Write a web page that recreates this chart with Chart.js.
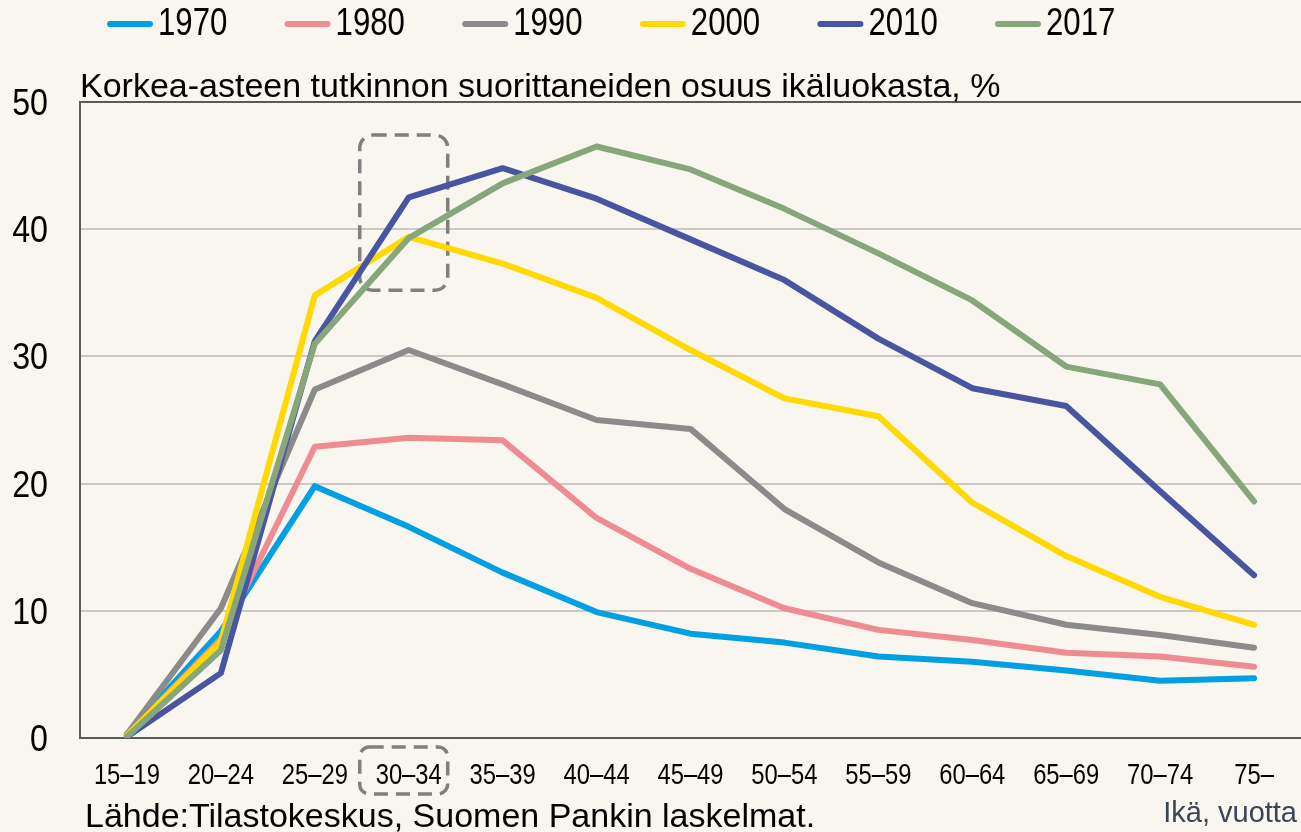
<!DOCTYPE html>
<html><head><meta charset="utf-8">
<script src="https://cdn.jsdelivr.net/npm/chart.js@4/dist/chart.umd.min.js"></script>
<style>
html,body{margin:0;padding:0;background:#f9f5ef;}
#wrap{width:1301px;height:832px;position:relative;}
</style>
</head><body>
<div id="wrap"><canvas id="c"></canvas></div>
<script>
const categories = ['15–19','20–24','25–29','30–34','35–39','40–44','45–49','50–54','55–59','60–64','65–69','70–74','75–'];
const seriesNames = ['1970','1980','1990','2000','2010','2017'];
const v1970 = [0.3, 8.4, 19.8, 16.6, 13.0, 9.9, 8.2, 7.5, 6.4, 6.0, 5.3, 4.5, 4.7];
const v1980 = [0.2, 7.8, 22.9, 23.6, 23.4, 17.3, 13.3, 10.2, 8.5, 7.7, 6.7, 6.4, 5.6];
const v1990 = [0.3, 10.2, 27.4, 30.5, 27.8, 25.0, 24.3, 18.0, 13.8, 10.6, 8.9, 8.1, 7.1];
const v2000 = [0.2, 7.6, 34.8, 39.4, 37.3, 34.6, 30.5, 26.7, 25.3, 18.5, 14.3, 11.1, 8.9];
const v2010 = [0.1, 5.1, 31.2, 42.5, 44.8, 42.4, 39.2, 36.0, 31.4, 27.5, 26.1, 19.4, 12.8];
const v2017 = [0.1, 6.9, 31.0, 39.3, 43.6, 46.5, 44.7, 41.6, 38.1, 34.4, 29.2, 27.8, 18.6];
const yTickValues = [0, 10, 20, 30, 40, 50];
const titleText = 'Korkea-asteen tutkinnon suorittaneiden osuus ikäluokasta, %';
const sourceText = 'Lähde:Tilastokeskus, Suomen Pankin laskelmat.';
const unitText = 'Ikä, vuotta';
const highlightCategory = 3;

const seriesValues = [v1970, v1980, v1990, v2000, v2010, v2017];
const colors = ['#00a0e2', '#ef8b92', '#8b8b8b', '#ffd900', '#4a55a2', '#87a77a'];
const REG = "'Liberation Sans',Arial,sans-serif";

function roundRectPath(ctx, x, y, w, h, r) {
  ctx.beginPath();
  ctx.moveTo(x + r, y);
  ctx.lineTo(x + w - r, y);
  ctx.arcTo(x + w, y, x + w, y + r, r);
  ctx.lineTo(x + w, y + h - r);
  ctx.arcTo(x + w, y + h, x + w - r, y + h, r);
  ctx.lineTo(x + r, y + h);
  ctx.arcTo(x, y + h, x, y + h - r, r);
  ctx.lineTo(x, y + r);
  ctx.arcTo(x, y, x + r, y, r);
  ctx.closePath();
}

// draws condensed text (horizontal squeeze), emulating a narrow typeface
function narrowText(ctx, text, x, y, align, size, sx) {
  ctx.save();
  ctx.font = size + 'px ' + REG;
  ctx.textAlign = align;
  ctx.textBaseline = 'alphabetic';
  ctx.translate(x, y);
  ctx.scale(sx, 1);
  ctx.fillText(text, 0, 0);
  ctx.restore();
}

const decor = {
  id: 'decor',
  beforeDraw(chart) {
    const ctx = chart.ctx;
    ctx.save();
    ctx.fillStyle = '#f9f5ef';
    ctx.fillRect(0, 0, chart.width, chart.height);
    ctx.restore();
  },
  beforeDatasetsDraw(chart) {
    const ctx = chart.ctx;
    const xs = chart.scales.x, ys = chart.scales.y;
    const cx = xs.getPixelForValue(highlightCategory);
    ctx.save();
    ctx.strokeStyle = '#7f7f7f';
    ctx.lineWidth = 3.5;
    ctx.setLineDash([14, 8]);
    const top = ys.getPixelForValue(47.4), bot = ys.getPixelForValue(35.2);
    roundRectPath(ctx, cx - 49, top, 88, bot - top, 13);
    ctx.stroke();
    ctx.restore();
  },
  afterDraw(chart) {
    const ctx = chart.ctx;
    const ca = chart.chartArea;
    const xs = chart.scales.x, ys = chart.scales.y;
    ctx.save();
    ctx.fillStyle = '#000';
    // x tick labels
    xs.ticks.forEach((t, i) => {
      narrowText(ctx, xs.getLabelForValue(t.value), xs.getPixelForTick(i), ca.bottom + 46, 'center', 29, 0.82);
    });
    // y tick labels
    ys.ticks.forEach((t, i) => {
      narrowText(ctx, String(t.value), ca.left - 32, ys.getPixelForValue(t.value) + 13, 'right', 37, 0.87);
    });
    // dashed box around x label
    const cx = xs.getPixelForValue(highlightCategory);
    ctx.strokeStyle = '#7f7f7f';
    ctx.lineWidth = 3.5;
    ctx.setLineDash([14, 8]);
    roundRectPath(ctx, cx - 49, ca.bottom + 9, 88, 47, 10);
    ctx.stroke();
    ctx.setLineDash([]);
    // legend
    let x = 107;
    chart.data.datasets.forEach((ds) => {
      ctx.strokeStyle = ds.borderColor;
      ctx.lineWidth = 6;
      ctx.lineCap = 'round';
      ctx.beginPath();
      ctx.moveTo(x + 3, 24);
      ctx.lineTo(x + 43, 24);
      ctx.stroke();
      ctx.fillStyle = '#000';
      narrowText(ctx, ds.label, x + 51, 35, 'left', 38, 0.82);
      x += 177.6;
    });
    // title
    ctx.font = '34px ' + REG;
    ctx.textAlign = 'left';
    ctx.textBaseline = 'alphabetic';
    ctx.fillStyle = '#000';
    ctx.fillText(titleText, ca.left, 97);
    // source
    ctx.fillText(sourceText, 85, 827);
    // unit
    ctx.font = '29px ' + REG;
    ctx.fillStyle = '#3a4558';
    ctx.textAlign = 'right';
    ctx.fillText(unitText, 1297, 822);
    ctx.restore();
  }
};

const datasets = seriesNames.map((name, i) => ({
  label: name,
  data: seriesValues[i],
  borderColor: colors[i],
  backgroundColor: colors[i],
  borderWidth: 6,
  borderJoinStyle: 'round',
  borderCapStyle: 'round',
  pointRadius: 0,
  pointHoverRadius: 0,
  tension: 0,
  fill: false,
  order: seriesNames.length - 1 - i
}));

new Chart(document.getElementById('c'), {
  type: 'line',
  data: { labels: categories, datasets },
  options: {
    responsive: true,
    maintainAspectRatio: false,
    animation: false,
    devicePixelRatio: 1,
    layout: { padding: { top: 102, right: 0, bottom: 0, left: 0 } },
    plugins: { legend: { display: false }, tooltip: { enabled: false }, title: { display: false } },
    scales: {
      x: {
        type: 'category',
        offset: true,
        afterFit(s) { s.height = 94; },
        grid: { display: false, drawTicks: false },
        border: { display: true, color: '#5a5a5a', width: 2 },
        ticks: { display: false, autoSkip: false, maxRotation: 0 }
      },
      y: {
        min: 0, max: 50,
        afterFit(s) { s.width = 80; },
        afterBuildTicks(s) { s.ticks = yTickValues.map(v => ({ value: v })); },
        grid: {
          drawTicks: false,
          lineWidth: 2,
          color: (c) => (c.tick && (c.tick.value === 50 || c.tick.value === 0)) ? '#5a5a5a' : '#cbc7c2'
        },
        border: { display: true, color: '#5a5a5a', width: 2 },
        ticks: { display: false }
      }
    }
  },
  plugins: [decor]
});
</script>
</body></html>
